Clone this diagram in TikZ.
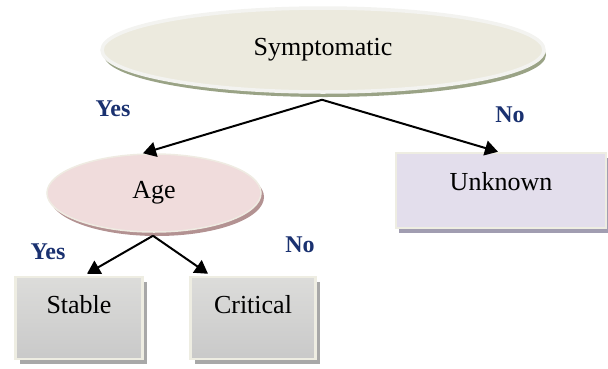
\documentclass[tikz,border=0pt]{standalone}
\usepackage{fontspec}
\setmainfont{Liberation Serif}
\usetikzlibrary{shapes.geometric,arrows.meta,shadows,calc}
\definecolor{symfill}{HTML}{ECEADE}
\definecolor{symrim}{HTML}{F3F3F0}
\definecolor{symshadow}{HTML}{9AA386}
\definecolor{agefill}{HTML}{F0DCDC}
\definecolor{agerim}{HTML}{EFEBE2}
\definecolor{ageshadow}{HTML}{B39292}
\definecolor{unkfill}{HTML}{E3DEEC}
\definecolor{boxrim}{HTML}{EEEDE2}
\definecolor{unkshadow}{HTML}{A19DB1}
\definecolor{graytop}{HTML}{DCDCDA}
\definecolor{graybot}{HTML}{C9C9C9}
\definecolor{grayshadow}{HTML}{A8A8A8}
\definecolor{navy}{HTML}{1A3170}
\begin{document}
\begin{tikzpicture}[x=1pt,y=-1pt,
  txt/.style={font=\fontsize{26}{30}\selectfont},
  lbl/.style={font=\fontsize{24}{28}\selectfont\bfseries, text=navy, inner sep=0pt},
  oval/.style={ellipse, inner sep=0pt, txt},
  boxnode/.style={rectangle, inner sep=0pt, txt, line width=2.5pt, draw=boxrim},
  conn/.style={line width=2pt, -{Triangle[length=13pt,width=15pt]}}
]
\useasboundingbox (0,0) rectangle (608,368);

\node[oval, minimum width=442pt, minimum height=84pt, fill=symfill, draw=symrim, line width=3.5pt,
  drop shadow={shadow xshift=2pt, shadow yshift=-5pt, fill=symshadow, opacity=1, shadow scale=1}]
  (sym) at (323,50) {Symptomatic};

\node[oval, minimum width=214pt, minimum height=78pt, fill=agefill, draw=agerim, line width=1.5pt,
  drop shadow={shadow xshift=3pt, shadow yshift=-4pt, fill=ageshadow, opacity=1, shadow scale=1}]
  (age) at (154,193) {Age};

\node[boxnode, minimum width=210pt, minimum height=75pt, fill=unkfill, text depth=18pt, text height=18pt,
  drop shadow={shadow xshift=3pt, shadow yshift=-5pt, fill=unkshadow, opacity=1, shadow scale=1}]
  (unk) at (501,190.5) {Unknown};

\node[boxnode, minimum width=127pt, minimum height=82pt, top color=graytop, bottom color=graybot, text depth=28pt, text height=18pt,
  drop shadow={shadow xshift=4pt, shadow yshift=-5pt, fill=grayshadow, opacity=1, shadow scale=1}]
  (stab) at (79,318) {Stable};

\node[boxnode, minimum width=125pt, minimum height=82pt, top color=graytop, bottom color=graybot, text depth=28pt, text height=18pt,
  drop shadow={shadow xshift=4pt, shadow yshift=-5pt, fill=grayshadow, opacity=1, shadow scale=1}]
  (crit) at (253,318) {Critical};

\draw[conn] ($(sym.south)+(-1,6)$) -- ($(age.north)+(-11,0)$);
\draw[conn] ($(sym.south)+(-1,6)$) -- ($(unk.north)+(-3,0)$);
\draw[conn] ($(age.south)+(-1,3)$) -- ($(stab.north)+(8,-2)$);
\draw[conn] ($(age.south)+(-1,3)$) -- ($(crit.north)+(-45,-2)$);

\node[lbl] (y1) at (113,109) {Yes};
\node[lbl] (n1) at (510,115) {No};
\node[lbl] (y2) at (48,252) {Yes};
\node[lbl] (n2) at (300,245) {No};
\end{tikzpicture}
\end{document}
